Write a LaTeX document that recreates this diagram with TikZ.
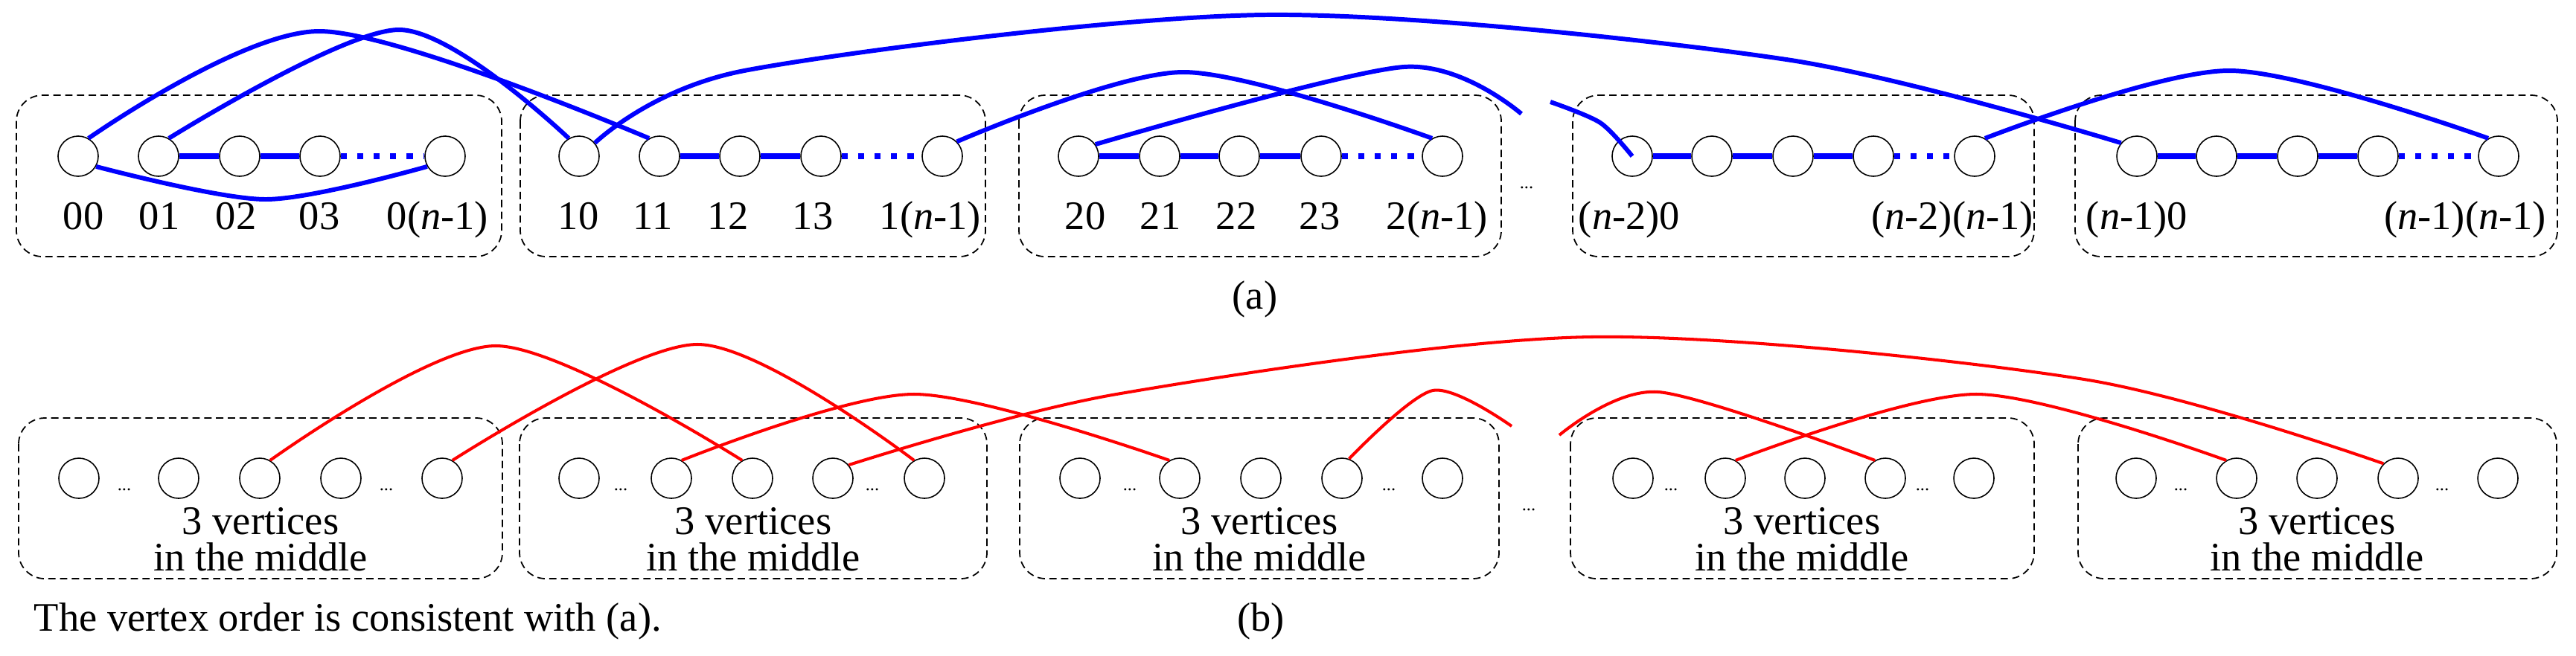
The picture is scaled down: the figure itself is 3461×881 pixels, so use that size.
\documentclass[tikz,border=0pt]{standalone}
\usepackage{fontspec}
\setmainfont{Liberation Serif}
\begin{document}
\begin{tikzpicture}[x=0.01cm,y=-0.01cm,
  v/.style={circle,draw=black,fill=white,line width=0.45pt,minimum size=0.54cm,inner sep=0pt},
  grp/.style={draw=black,line width=0.5pt,dash pattern=on 2.8pt off 1.7pt,rounded corners=0.35cm},
  lab/.style={anchor=base,inner sep=0pt,font=\fontsize{15.5pt}{18pt}\selectfont},
  dots/.style={inner sep=0pt,font=\fontsize{7pt}{8pt}\selectfont},
  bl/.style={draw=blue,line width=2.3pt},
  bd/.style={draw=blue,line width=2.3pt,dash pattern=on 2.3pt off 4pt},
  ba/.style={draw=blue,line width=1.7pt},
  ra/.style={draw=red,line width=1.15pt}]
\useasboundingbox (0,0) rectangle (3461,881);
% ---------- (a) ----------
\foreach \nm/\xa/\xb in {g1/22/674,g2/699/1324,g3/1369/2017,g4/2113/2733,g5/2788/3436}
  \draw[grp] (\xa,128) rectangle (\xb,345);
\foreach \nm/\x in {A1-1/105,A1-2/213,A1-3/322,A1-4/430,A1-5/598,
                    A2-1/778,A2-2/886,A2-3/994,A2-4/1103,A2-5/1266,
                    A3-1/1449,A3-2/1558,A3-3/1665,A3-4/1775,A3-5/1938,
                    A4-1/2193,A4-2/2300,A4-3/2409,A4-4/2517,A4-5/2653,
                    A5-1/2871,A5-2/2978,A5-3/3087,A5-4/3195,A5-5/3357}
  \node[v] (\nm) at (\x,210) {};
\foreach \nm/\x/\t in {l1/112/00,l2/214/01,l3/317/02,l4/429/03,
   l6/777/10,l7/877/11,l8/978/12,l9/1092/13,
   l11/1458/20,l12/1559/21,l13/1661/22,l14/1773/23}
  \node[lab] (\nm) at (\x,308) {\t};
\node[lab] (l5) at (588,308) {0(\textit{n}-1)};
\node[lab] (l10) at (1250,308) {1(\textit{n}-1)};
\node[lab] (l15) at (1931,308) {2(\textit{n}-1)};
\node[lab] (l16) at (2189,308) {(\textit{n}-2)0};
\node[lab] (l17) at (2623,308) {(\textit{n}-2)(\textit{n}-1)};
\node[lab] (l18) at (2871,308) {(\textit{n}-1)0};
\node[lab] (l19) at (3312,308) {(\textit{n}-1)(\textit{n}-1)};
\node[dots] (da) at (2051,252) {...};
\node[lab] (capa) at (1686,415) {(a)};
% horizontal paths
\draw[bl] (A1-2) -- (A1-3) -- (A1-4); \draw[bd] (A1-4) -- (A1-5);
\draw[bl] (A2-2) -- (A2-3) -- (A2-4); \draw[bd] (A2-4) -- (A2-5);
\foreach \i in {3,4,5}{
  \draw[bl] (A\i-1) -- (A\i-2) -- (A\i-3) -- (A\i-4); \draw[bd] (A\i-4) -- (A\i-5);}
% arcs
\coordinate (cA1) at (2044,153);
\coordinate (cA2) at (2083,137);
\draw[ba] plot[smooth] coordinates {(A1-1.60) (429,42) (A2-2.120)};
\draw[ba] plot[smooth] coordinates {(A1-2.60) (536,40) (A2-1.120)};
\draw[ba] plot[smooth] coordinates {(A1-1.-30) (357,268) (A1-5.-150)};
\draw[ba] plot[smooth] coordinates {(A2-1.40) (1000,95) (1700,20) (2400,80) (A5-1.140)};
\draw[ba] plot[smooth] coordinates {(A2-5.45) (1589,97) (A3-5.120)};
\draw[ba] plot[smooth] coordinates {(A3-1.35) (1886,90) (cA1)};
\draw[ba] plot[smooth] coordinates {(cA2) (2150,165) (A4-1.center)};
\draw[ba] plot[smooth] coordinates {(A4-5.60) (2995,95) (A5-5.120)};
% ---------- (b) ----------
\foreach \nm/\xa/\xb in {h1/25/675,h2/698/1326,h3/1370/2014,h4/2110/2733,h5/2792/3435}
  \draw[grp] (\xa,562) rectangle (\xb,778);
\foreach \nm/\x in {B1-1/106,B1-2/240,B1-3/349,B1-4/458,B1-5/594,
                    B2-1/778,B2-2/902,B2-3/1011,B2-4/1119,B2-5/1242,
                    B3-1/1451,B3-2/1585,B3-3/1694,B3-4/1803,B3-5/1938,
                    B4-1/2194,B4-2/2318,B4-3/2425,B4-4/2533,B4-5/2652,
                    B5-1/2870,B5-2/3005,B5-3/3113,B5-4/3222,B5-5/3356}
  \node[v] (\nm) at (\x,643) {};
\foreach \nm/\x in {e1/167,e2/519,e3/834,e4/1172,e5/1518,e6/1866,e7/2245,e8/2583,e9/2930,e10/3281}
  \node[dots] (\nm) at (\x,658) {...};
\foreach \nm/\x in {t1/350,t2/1012,t3/1692,t4/2421,t5/3113}{
  \node[lab] (\nm a) at (\x,718) {3 vertices};
  \node[lab] (\nm b) at (\x,767) {in the middle};}
\node[dots] (db) at (2054,685) {...};
\node[lab,anchor=base west] (note) at (45,848) {The vertex order is consistent with (a).};
\node[lab] (capb) at (1694,848) {(b)};
\coordinate (cB1) at (2031,573);
\coordinate (cB2) at (2095,585);
\draw[ra] plot[smooth] coordinates {(B1-3.60) (666,465) (B2-3.120)};
\draw[ra] plot[smooth] coordinates {(B1-5.60) (937,463) (B2-5.120)};
\draw[ra] plot[smooth] coordinates {(B2-2.60) (1228,530) (B3-2.120)};
\draw[ra] plot[smooth] coordinates {(B2-4.40) (1500,530) (2138,453) (2800,510) (B5-4.135)};
\draw[ra] plot[smooth] coordinates {(B3-4.70) (1925,525) (cB1)};
\draw[ra] plot[smooth] coordinates {(cB2) (2228,527) (B4-4.120)};
\draw[ra] plot[smooth] coordinates {(B4-2.60) (2655,530) (B5-2.120)};
\end{tikzpicture}
\end{document}
